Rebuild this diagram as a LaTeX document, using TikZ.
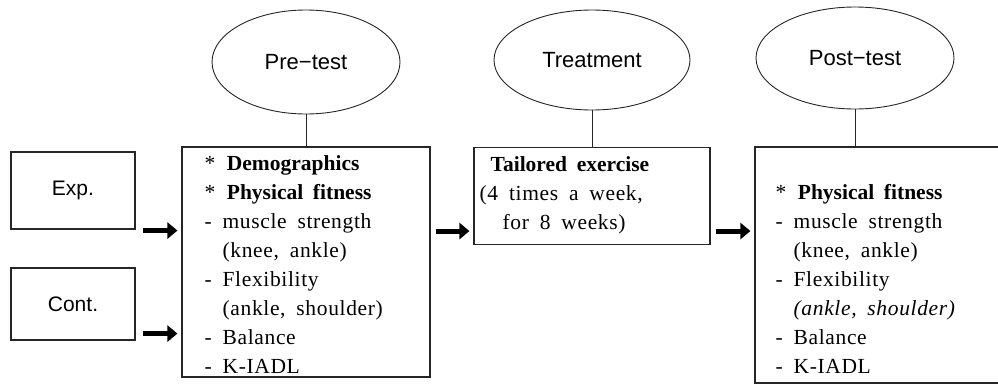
\documentclass[tikz,border=0pt]{standalone}
\usepackage{fontspec}
\setmainfont{Liberation Serif}[WordSpace={1.8}, LetterSpace=3, BoldFeatures={LetterSpace=0}]
\newfontfamily\sansf{Liberation Sans}
\usetikzlibrary{arrows.meta,calc,shapes.geometric}
\tikzset{
  box/.style={draw=black!85, line width=1.1pt, rectangle, inner sep=0pt},
  oval/.style={draw=black!85, line width=0.9pt, ellipse, inner sep=0pt, font=\sansf\fontsize{22}{24}\selectfont},
  lbl/.style={font=\sansf\fontsize{21}{24}\selectfont},
  body/.style={anchor=west, align=left, inner sep=0pt, font=\fontsize{21.5}{29}\selectfont},
  link/.style={draw=black!85, line width=0.9pt},
  bigarrow/.style={line width=5pt, -{Triangle[length=10pt,width=16pt]}}
}
\newcommand{\ind}{\hphantom{-\ }}
\begin{document}
\begin{tikzpicture}[x=1pt,y=-1pt]
\useasboundingbox (0,0) rectangle (998,386);
% groups
\node[box, minimum width=124pt, minimum height=77pt, lbl] (exp) at (73,190.5) {Exp.};
\node[box, minimum width=124pt, minimum height=72pt, lbl] (cont) at (73,304) {Cont.};
% main boxes
\node[box, minimum width=248pt, minimum height=230pt] (pre) at (306,262) {};
\node[box, minimum width=236pt, minimum height=97pt] (treat) at (592,196) {};
\node[box, minimum width=260pt, minimum height=236pt] (post) at (885,265) {};
% ellipses
\node[oval, minimum width=188pt, minimum height=104pt] (e1) at (306,62) {Pre−test};
\node[oval, minimum width=196pt, minimum height=100pt] (e2) at (592,60) {Treatment};
\node[oval, minimum width=198pt, minimum height=102pt] (e3) at (855,58) {Post−test};
% connectors
\draw[link] (e1.south) -- (e1.south |- pre.north);
\draw[link] (e2.south) -- (e2.south |- treat.north);
\draw[link] (e3.south) -- (e3.south |- post.north);
% texts
\node[body] (pretxt) at ($(pre.west)+(23,2.5)$) {%
* \textbf{Demographics}\\
* \textbf{Physical fitness}\\
- muscle strength\\
\ind(knee, ankle)\\
- Flexibility\\
\ind(ankle, shoulder)\\
- Balance\\
- K-IADL};
\node[body] (treattxt) at ($(treat.west)+(6,-1)$) {%
\hspace*{11pt}{\addfontfeatures{LetterSpace=4}\textbf{Tailored exercise}}\\
(4 times a week,\\
\hspace*{23pt}for 8 weeks)};
\node[body] (posttxt) at ($(post.west)+(21,14)$) {%
* \textbf{Physical fitness}\\
- muscle strength\\
\ind(knee, ankle)\\
- Flexibility\\
\ind\textit{(ankle, shoulder)}\\
- Balance\\
- K-IADL};
% arrows
\draw[bigarrow] ($(exp.south east)+(7,1)$) -- ($(pre.west |- exp.south)+(-4,1)$);
\draw[bigarrow] ($(cont.south east)+(7,-7)$) -- ($(pre.west |- cont.south)+(-4,-7)$);
\draw[bigarrow] ($(pre.east |- treat.south)+(5,-14)$) -- ($(treat.south west)+(-4,-14)$);
\draw[bigarrow] ($(treat.south east)+(5,-14)$) -- ($(post.west |- treat.south)+(-4,-14)$);
\end{tikzpicture}
\end{document}
